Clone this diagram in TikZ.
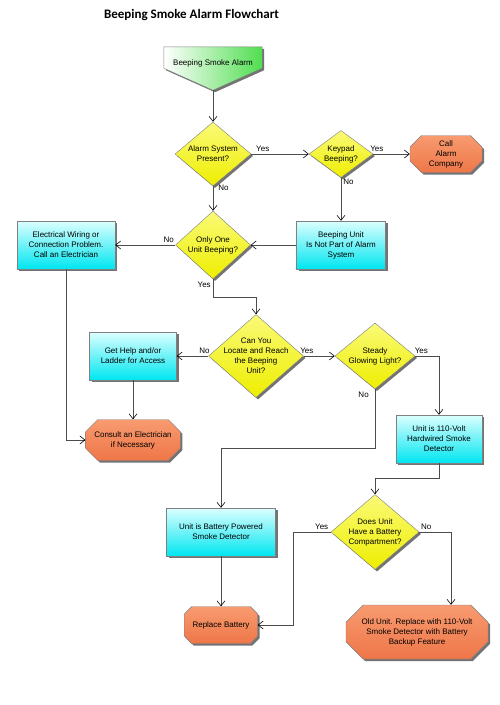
\documentclass[tikz,border=0pt]{standalone}
\usepackage{fontspec}
\setmainfont{Liberation Sans}
\newfontfamily\titlefont{Carlito}
\usetikzlibrary{shapes.geometric,shapes.misc,shadows,arrows.meta,backgrounds}
\definecolor{coraltop}{RGB}{248,155,112}
\definecolor{coralbot}{RGB}{238,118,72}
\definecolor{cyantop}{RGB}{220,255,255}
\definecolor{cyanbot}{RGB}{0,230,240}
\definecolor{yellowtop}{RGB}{250,250,120}
\definecolor{yellowbot}{RGB}{238,238,0}
\definecolor{greenend}{RGB}{80,222,80}
\begin{document}
\begin{tikzpicture}[x=1pt,y=-1pt,font=\fontsize{8}{10}\selectfont]
    \tikzstyle{shaded}=[drop shadow={shadow xshift=2pt,shadow yshift=-2pt,fill=black!55,opacity=1},draw=black!50,align=center,inner sep=0pt]
    \tikzstyle{decision}=[shaded,diamond,top color=yellowtop,bottom color=yellowbot,inner sep=-8pt]
    \tikzstyle{process}=[shaded,rectangle,top color=cyantop,bottom color=cyanbot]
    \tikzstyle{terminal}=[shaded,chamfered rectangle,chamfered rectangle xsep=9pt,top color=coraltop,bottom color=coralbot]
    \tikzstyle{start}=[minimum width=98pt,minimum height=43pt,inner sep=0pt,text height=6pt,text depth=12pt]
    \tikzstyle{flow}=[draw=black!70,line width=0.6pt,-{Straight Barb[length=5pt,width=8pt,color=black]}]
    \tikzstyle{answer}=[inner sep=2pt]

\useasboundingbox (0,0) rectangle (500,705);

% Titre
\node[font=\titlefont\bfseries\fontsize{13}{15}\selectfont] (title) at (191.5,15) {Beeping Smoke Alarm Flowchart};

% Depart
\node[start] (S) at (213,68.5) {Beeping Smoke Alarm};
\begin{scope}[on background layer]
 \path[drop shadow={shadow xshift=2pt,shadow yshift=-2pt,fill=black!55,opacity=1},draw=black!50,left color=white,right color=greenend]
   (S.north west) -- (S.north east) -- ([yshift=22pt]S.south east) -- (S.south) -- ([yshift=22pt]S.south west) -- cycle;
\end{scope}

% Questions
\node[decision,minimum width=76pt,minimum height=64pt] (D-1) at (213,154) {Alarm System\\Present?};
\node[decision,minimum width=64pt,minimum height=47pt] (D-2) at (341,154) {Keypad\\Beeping?};
\node[decision,minimum width=75pt,minimum height=68pt] (D-3) at (213,245) {Only One\\Unit Beeping?};
\node[decision,minimum width=95pt,minimum height=83pt] (D-4) at (256,356) {Can You\\Locate and Reach\\the Beeping\\Unit?};
\node[decision,minimum width=80pt,minimum height=66pt] (D-5) at (375,356) {Steady\\Glowing Light?};
\node[decision,minimum width=88pt,minimum height=75pt] (D-6) at (375,532) {Does Unit\\Have a Battery\\Compartment?};

% Etapes
\node[process,minimum width=89pt,minimum height=48pt] (P-1) at (341,245) {Beeping Unit\\Is Not Part of Alarm\\System};
\node[process,minimum width=98pt,minimum height=48pt] (P-2) at (66,245) {Electrical Wiring or\\Connection Problem.\\Call an Electrician};
\node[process,minimum width=87pt,minimum height=48pt] (P-3) at (133,356) {Get Help and/or\\Ladder for Access};
\node[process,minimum width=86pt,minimum height=48pt] (P-4) at (439,439) {Unit is 110-Volt\\Hardwired Smoke\\Detector};
\node[process,minimum width=109pt,minimum height=48pt] (P-5) at (221,532) {Unit is Battery Powered\\Smoke Detector};

% Fins
\node[terminal,minimum width=72pt,minimum height=37pt,chamfered rectangle xsep=8pt] (T-1) at (446,154) {Call\\Alarm\\Company};
\node[terminal,minimum width=94pt,minimum height=41pt,chamfered rectangle xsep=11pt] (T-2) at (133,440) {Consult an Electrician\\if Necessary};
\node[terminal,minimum width=73pt,minimum height=37pt,chamfered rectangle xsep=11pt] (T-3) at (221,625) {Replace Battery};
\node[terminal,minimum width=142pt,minimum height=54pt,chamfered rectangle xsep=14pt] (T-4) at (417,632) {Old Unit. Replace with 110-Volt\\Smoke Detector with Battery\\Backup Feature};

% Liaisons
 \draw[flow] (S.south) -- (D-1.north);
 \draw[flow] (D-1.east) -- node[answer,pos=0.2,above]{Yes} (D-2.west);
 \draw[flow] (D-2.east) -- node[answer,pos=0.1,above]{Yes} (T-1.west);
 \draw[flow] (D-1.south) -- node[answer,pos=0.05,right=3pt]{No} (D-3.north);
 \draw[flow] (D-2.south) -- node[answer,pos=0.1,right]{No} (P-1.north);
 \draw[flow] (P-1.west) -- (D-3.east);
 \draw[flow] (D-3.west) -- node[answer,pos=0.11,above]{No} (P-2.east);
 \draw[flow] (D-3.south) -- node[answer,pos=0.3,left]{Yes} ++(0,18) -| (D-4.north);
 \draw[flow] (D-4.west) -- node[answer,pos=0.12,above]{No} (P-3.east);
 \draw[flow] (D-4.east) -- node[answer,pos=0.1,above]{Yes} (D-5.west);
 \draw[flow] (D-5.east) -| node[answer,pos=0.13,above]{Yes} (P-4.north);
 \draw[flow] (D-5.south) -- node[answer,pos=0.1,left=4pt]{No} ++(0,59) -| (P-5.north);
 \draw[flow] (P-3.south) -- (T-2.north);
 \draw[flow] (P-2.south) |- (T-2.west);
 \draw[flow] (P-4.south) -- ++(0,15) -| (D-6.north);
 \draw[flow] (D-6.west) -- node[answer,pos=0.24,above]{Yes} ++(-38,0) |- (T-3.east);
 \draw[flow] (D-6.east) -| node[answer,pos=0.11,above]{No} ([xshift=34pt]T-4.north);
 \draw[flow] (P-5.south) -- (T-3.north);

\end{tikzpicture}
\end{document}
